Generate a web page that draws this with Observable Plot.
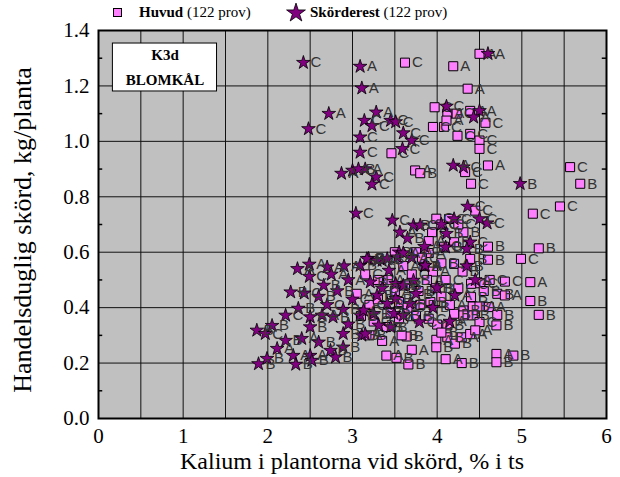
<!DOCTYPE html>
<html><head><meta charset="utf-8">
<script src="https://cdn.jsdelivr.net/npm/d3@7"></script>
<script src="https://cdn.jsdelivr.net/npm/@observablehq/plot@0.6"></script>
<style>
body{margin:0;background:#fff;font-family:"Liberation Serif",serif;}
#legend{position:relative;height:26px;width:620px;font-size:15px;color:#000;z-index:1;}
#legend span{position:absolute;top:4px;white-space:nowrap;}
#legend svg{position:absolute;top:0;left:0;}
#chart svg{overflow:visible;}
</style></head><body>
<div id="legend">
<svg width="620" height="26"></svg>
<span style="left:139px"><b>Huvud</b> (122 prov)</span>
<span style="left:310px"><b>Skörderest</b> (122 prov)</span>
</div>
<div id="chart"></div>
<script>
// Huvud: [K %, yield kg/planta, block]
const huvud = [
[4.50,1.316,"A"],[3.62,1.284,"C"],[4.19,1.271,"A"],[4.36,1.19,"A"],[3.97,1.123,"C"],[4.12,1.10,"A"],
[4.23,1.10,"C"],[4.39,1.11,"A"],[4.57,1.067,"C"],[3.95,1.052,"C"],[4.08,1.052,"C"],[4.11,1.075,"A"],
[4.24,1.02,"C"],[4.39,1.027,"C"],[4.50,1.003,"C"],[4.50,0.973,"C"],[3.46,0.957,"C"],[3.74,0.895,"A"],
[3.80,0.885,"B"],[4.33,0.889,"C"],[4.60,0.913,"A"],[4.40,0.847,"C"],[5.57,0.907,"C"],[5.69,0.847,"B"],
[5.45,0.765,"C"],[5.13,0.739,"C"],[3.99,0.721,"C"],[3.94,0.672,"C"],[4.20,0.636,"B"],[4.31,0.672,"B"],
[5.20,0.614,"B"],[4.99,0.576,"C"],[4.60,0.573,"B"],[4.39,0.576,"B"],[3.90,0.597,"A"],[4.20,0.558,"A"],
[4.05,0.70,"C"],[4.14,0.72,"C"],[4.25,0.70,"C"],[3.75,0.60,"A"],[5.10,0.492,"A"],[4.80,0.494,"C"],
[4.71,0.45,"B"],[4.80,0.444,"A"],[4.40,0.486,"C"],[4.51,0.488,"C"],[4.40,0.438,"B"],[5.10,0.424,"B"],
[4.61,0.402,"A"],[4.42,0.404,"B"],[4.50,0.404,"A"],[4.31,0.39,"B"],[4.20,0.378,"B"],[4.31,0.372,"B"],
[4.42,0.372,"B"],[4.50,0.348,"C"],[4.71,0.374,"B"],[4.70,0.336,"B"],[5.20,0.374,"B"],[4.00,0.339,"B"],
[4.12,0.336,"B"],[3.85,0.55,"B"],[3.95,0.53,"A"],[4.05,0.56,"B"],[4.10,0.50,"C"],[3.98,0.47,"B"],
[3.88,0.50,"A"],[3.78,0.46,"B"],[3.70,0.52,"C"],[3.62,0.48,"B"],[3.55,0.42,"A"],[3.65,0.40,"C"],
[3.80,0.41,"B"],[3.92,0.42,"B"],[4.05,0.44,"B"],[3.45,0.38,"C"],[3.50,0.46,"A"],[3.30,0.50,"B"],
[3.20,0.41,"C"],[3.10,0.37,"B"],[3.25,0.35,"C"],[3.40,0.33,"B"],[3.55,0.36,"A"],[3.75,0.37,"B"],
[3.90,0.36,"C"],[4.15,0.41,"A"],[3.60,0.55,"A"],[3.50,0.60,"B"],[3.90,0.64,"A"],[4.08,0.62,"C"],
[3.99,0.284,"A"],[3.99,0.257,"B"],[4.12,0.293,"B"],[4.21,0.27,"B"],[4.29,0.293,"A"],[4.39,0.305,"A"],
[4.45,0.318,"A"],[3.64,0.296,"B"],[3.70,0.248,"A"],[3.40,0.227,"A"],[3.52,0.219,"B"],[3.66,0.195,"B"],
[4.10,0.214,"A"],[4.29,0.20,"B"],[4.70,0.233,"A"],[4.70,0.203,"B"],[4.90,0.227,"B"],[4.05,0.31,"B"],
[3.20,0.30,"B"],[3.35,0.28,"A"],[3.05,0.45,"A"],[3.15,0.52,"C"],[3.30,0.43,"B"],[3.42,0.50,"A"],
[3.58,0.30,"B"],[4.55,0.46,"B"],[4.62,0.50,"C"],[4.25,0.47,"C"],[4.30,0.53,"B"],[3.82,0.58,"C"],
[4.45,0.75,"C"],[4.60,0.62,"B"]
];
// Skörderest: [K %, yield kg/planta, block]
const skorderest = [
[4.60,1.316,"A"],[3.09,1.27,"A"],[2.42,1.284,"C"],[3.11,1.192,"A"],[3.28,1.105,"A"],[4.11,1.126,"C"],
[4.50,1.11,"A"],[4.43,1.087,"A"],[3.14,1.075,"C"],[3.23,1.056,"C"],[3.45,1.075,"C"],[3.51,1.07,"C"],
[3.60,1.03,"C"],[3.70,1.003,"C"],[3.59,0.973,"C"],[3.09,1.015,"C"],[3.09,0.96,"C"],[2.48,1.045,"C"],
[2.72,1.10,"A"],[4.19,0.913,"A"],[4.31,0.907,"C"],[4.98,0.847,"B"],[3.28,0.871,"C"],[3.23,0.845,"C"],
[3.15,0.90,"A"],[2.87,0.884,"A"],[3.00,0.895,"A"],[3.07,0.90,"B"],[3.04,0.74,"C"],[4.36,0.765,"C"],
[3.47,0.715,"C"],[3.56,0.672,"A"],[3.72,0.697,"B"],[3.80,0.697,"C"],[4.11,0.667,"B"],[4.10,0.618,"B"],
[4.39,0.636,"C"],[4.35,0.612,"B"],[4.59,0.705,"C"],[4.50,0.72,"C"],[4.20,0.72,"C"],[4.05,0.70,"C"],
[2.35,0.54,"A"],[2.49,0.556,"A"],[2.70,0.546,"A"],[2.49,0.512,"C"],[3.09,0.552,"B"],[3.19,0.577,"B"],
[3.35,0.57,"A"],[3.55,0.60,"A"],[3.70,0.58,"A"],[3.85,0.55,"A"],[2.27,0.456,"B"],[2.43,0.452,"C"],
[2.66,0.48,"B"],[2.21,0.372,"C"],[2.36,0.397,"B"],[2.50,0.366,"B"],[2.64,0.372,"A"],[2.77,0.366,"B"],
[2.89,0.393,"B"],[3.09,0.372,"B"],[1.87,0.318,"B"],[1.97,0.306,"C"],[2.05,0.335,"B"],[2.21,0.281,"B"],
[2.40,0.288,"A"],[2.50,0.33,"B"],[2.60,0.275,"B"],[2.89,0.306,"B"],[3.11,0.30,"B"],[2.11,0.252,"A"],
[2.30,0.227,"A"],[2.50,0.227,"A"],[2.74,0.245,"B"],[2.80,0.221,"B"],[2.89,0.257,"B"],[1.89,0.197,"B"],
[1.99,0.216,"B"],[2.33,0.195,"B"],[2.52,0.209,"B"],[3.17,0.576,"B"],[3.29,0.57,"A"],[3.41,0.576,"B"],
[3.53,0.582,"A"],[3.60,0.597,"A"],[3.86,0.552,"A"],[3.21,0.492,"B"],[3.43,0.534,"A"],[3.51,0.486,"B"],
[3.60,0.48,"B"],[3.72,0.498,"B"],[4.00,0.471,"B"],[4.21,0.444,"A"],[3.29,0.444,"B"],[3.41,0.414,"B"],
[3.51,0.432,"B"],[3.68,0.414,"B"],[3.13,0.39,"C"],[3.25,0.378,"B"],[3.49,0.378,"B"],[3.60,0.372,"B"],
[3.79,0.348,"C"],[3.31,0.336,"B"],[3.15,0.305,"A"],[2.95,0.50,"A"],[2.82,0.46,"B"],[3.00,0.43,"C"],
[2.75,0.52,"A"],[2.60,0.44,"B"],[2.90,0.55,"A"],[3.35,0.47,"B"],[3.75,0.45,"B"],[3.95,0.40,"B"],
[4.15,0.35,"A"],[3.45,0.33,"B"],[2.95,0.34,"B"],[2.70,0.41,"C"],[3.85,0.62,"A"],[4.35,0.55,"B"],
[4.45,0.50,"A"],[3.65,0.65,"B"]
];
const xTicks = [0,1,2,3,4,5,6];
const yTicks = [0,0.2,0.4,0.6,0.8,1.0,1.2,1.4];
const xGrid = [0.5,1,1.5,2,2.5,3,3.5,4,4.5,5,5.5];
const yGrid = [0.2,0.4,0.6,0.8,1.0,1.2];
const yMinor = [0.1,0.3,0.5,0.7,0.9,1.1,1.3];
const boxLines = ["K3d","BLOMKÅL"];
const xTitle = "Kalium i plantorna vid skörd, % i ts";
const yTitle = "Handelsduglig skörd, kg/planta";

const squareFill = "#ff80ff", starFill = "#800080";

// legend symbols
const lg = d3.select("#legend svg");
lg.append("rect").attr("x",113.5).attr("y",8.5).attr("width",8).attr("height",8).attr("fill",squareFill).attr("stroke","#000");
lg.append("path").attr("d",d3.symbol(d3.symbolStar, 110)()).attr("transform","translate(296,13)").attr("fill",starFill).attr("stroke","#000").attr("stroke-width",0.8);

const H = 451;
const chart = Plot.plot({
  width: 620, height: H,
  marginTop: 4, marginBottom: 59, marginLeft: 98, marginRight: 14,
  style: {fontFamily: "Liberation Serif, serif", fontSize: "21px", background: "white", color: "#000", overflow: "visible"},
  x: {domain: [0, 6]},
  y: {domain: [0, 1.4]},
  marks: [
    Plot.frame({fill: "#c0c0c0"}),
    Plot.ruleX(xGrid, {stroke: "#111", strokeWidth: 1}),
    Plot.ruleY(yGrid, {stroke: "#111", strokeWidth: 1}),
    Plot.ruleY(yMinor, {x1: 0, x2: 0.05, stroke: "#000", strokeWidth: 1.5}),
    Plot.ruleY(yMinor, {x1: 5.95, x2: 6, stroke: "#000", strokeWidth: 1.5}),
    Plot.axisX({ticks: xTicks, tickSize: 0, tickPadding: 10, tickFormat: d => String(d), label: null, fontSize: 21}),
    Plot.axisY({ticks: yTicks, tickSize: 0, tickPadding: 9, tickFormat: d3.format(".1f"), label: null, fontSize: 21}),
    Plot.rect([0], {x1: 0.17, x2: 1.40, y1: 1.18, y2: 1.353, fill: "white", stroke: "#000", strokeWidth: 1}),
    Plot.text([boxLines[0]], {x: 0.785, y: 1.31, fontSize: 15, fontWeight: "bold", fill: "#000"}),
    Plot.text([boxLines[1]], {x: 0.785, y: 1.222, fontSize: 15, fontWeight: "bold", fill: "#000"}),
    Plot.dot(huvud, {x: d => d[0], y: d => d[1], symbol: "square", r: 5.1, fill: squareFill, stroke: "#000", strokeWidth: 1}),
    Plot.text(huvud, {x: d => d[0], y: d => d[1], text: d => d[2], dx: 7, textAnchor: "start", fontFamily: "Liberation Sans, Arial, sans-serif", fontSize: 15, fill: "#333"}),
    Plot.dot(skorderest, {x: d => d[0], y: d => d[1], symbol: "star", r: 4.3, fill: starFill, stroke: "#000", strokeWidth: 0.8}),
    Plot.text(skorderest, {x: d => d[0], y: d => d[1], text: d => d[2], dx: 7, textAnchor: "start", fontFamily: "Liberation Sans, Arial, sans-serif", fontSize: 15, fill: "#333"}),
    Plot.frame({stroke: "#000", strokeWidth: 2})
  ]
});
const svg = d3.select(chart);
svg.append("text").attr("x", 352).attr("y", 437).attr("text-anchor", "middle").attr("dominant-baseline", "middle")
  .attr("font-family", "Liberation Serif, serif").attr("font-size", 24).attr("fill", "#000").text(xTitle);
svg.append("text").attr("transform", "translate(25,204) rotate(-90)").attr("text-anchor", "middle").attr("dominant-baseline", "middle")
  .attr("font-family", "Liberation Serif, serif").attr("font-size", 26).attr("fill", "#000").text(yTitle);
document.getElementById("chart").appendChild(chart);
</script>
</body></html>
